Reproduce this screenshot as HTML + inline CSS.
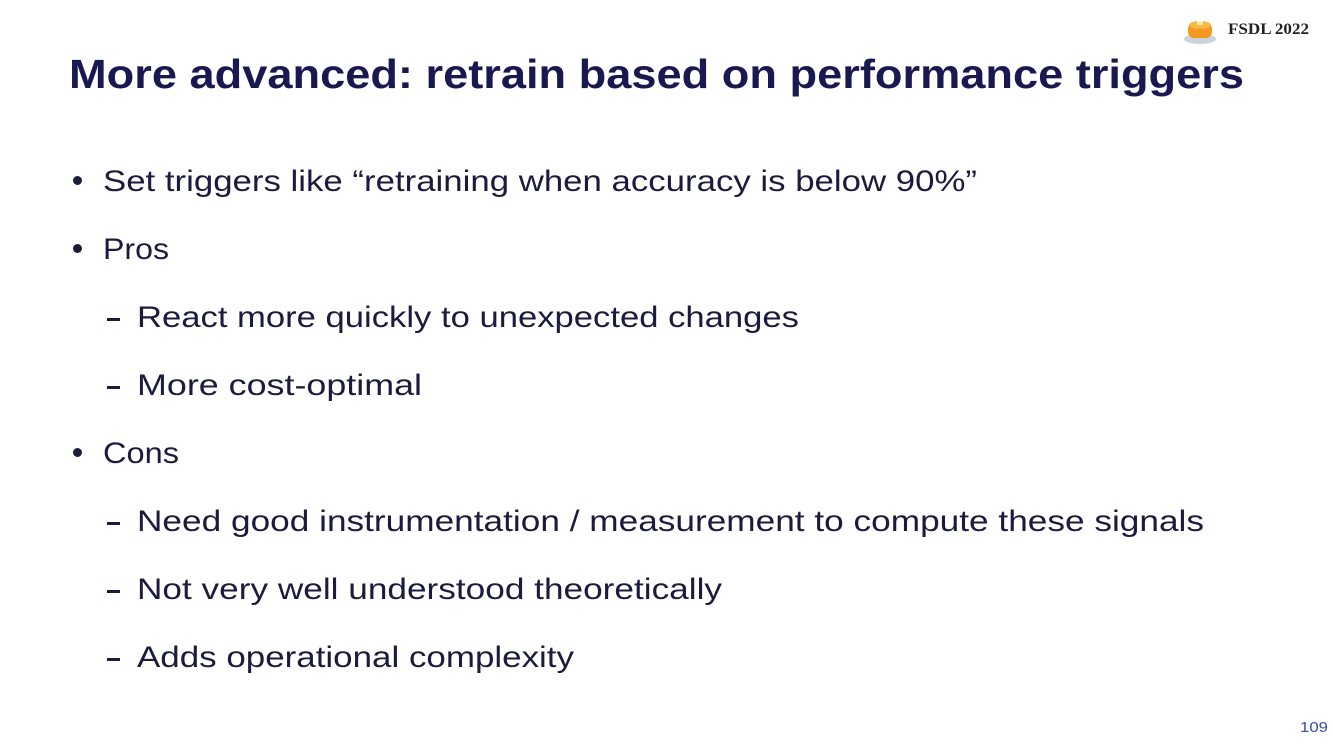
<!DOCTYPE html>
<html><head><meta charset="utf-8"><style>
body{margin:0;width:1333px;height:750px;background:#fff;overflow:hidden;position:relative;font-family:"Liberation Sans",sans-serif;color:#1b1b3d}
.t{position:absolute;white-space:nowrap;transform-origin:0 50%}
#title{left:69px;top:50px;font-size:41px;font-weight:bold;color:#1a1850;line-height:48px}
.b{font-size:30px;line-height:40px;margin-top:2px}
.dot{position:absolute;width:9px;height:9px;border-radius:50%;background:#1b1b3d}
.dash{position:absolute;width:13px;height:3px;background:#1b1b3d}
</style></head><body>
<div style="position:absolute;left:1183px;top:17px;width:34px;height:28px">
<svg width="34" height="28"><ellipse cx="17" cy="22" rx="16" ry="5" fill="#c9d3dc"/><rect x="5" y="6" width="24" height="15" rx="6" fill="#f39a1e"/><ellipse cx="17" cy="8" rx="11" ry="4" fill="#f8b84a"/><rect x="14" y="4" width="6" height="4" fill="#fde9b0"/></svg></div>
<div class="t" data-w="81" style="left:1228px;top:20px;font-family:'Liberation Serif',serif;font-weight:bold;font-size:16px;line-height:20px;color:#222">FSDL 2022</div>
<div class="t" id="title" data-w="1175">More advanced: retrain based on performance triggers</div>

<div class="dot" style="left:73px;top:176px"></div>
<div class="t b" data-w="874" style="left:103px;top:160px">Set triggers like “retraining when accuracy is below 90%”</div>
<div class="dot" style="left:73px;top:244px"></div>
<div class="t b" data-w="66" style="left:103px;top:228px">Pros</div>
<div class="dash" style="left:107px;top:318px"></div>
<div class="t b" data-w="662" style="left:137px;top:296px">React more quickly to unexpected changes</div>
<div class="dash" style="left:107px;top:386px"></div>
<div class="t b" data-w="285" style="left:137px;top:364px">More cost-optimal</div>
<div class="dot" style="left:73px;top:448px"></div>
<div class="t b" data-w="76" style="left:103px;top:432px">Cons</div>
<div class="dash" style="left:107px;top:522px"></div>
<div class="t b" data-w="1067" style="left:137px;top:500px">Need good instrumentation / measurement to compute these signals</div>
<div class="dash" style="left:107px;top:590px"></div>
<div class="t b" data-w="585" style="left:137px;top:568px">Not very well understood theoretically</div>
<div class="dash" style="left:107px;top:658px"></div>
<div class="t b" data-w="437" style="left:137px;top:636px">Adds operational complexity</div>
<div class="t" data-w="28" style="left:1300px;top:718px;font-size:15px;line-height:20px;color:#3b4ba8">109</div>
<script>
document.querySelectorAll('[data-w]').forEach(function(e){var w=e.getBoundingClientRect().width;var t=+e.getAttribute('data-w');if(w>0)e.style.transform='scaleX('+(t/w)+')';});
</script>
</body></html>
